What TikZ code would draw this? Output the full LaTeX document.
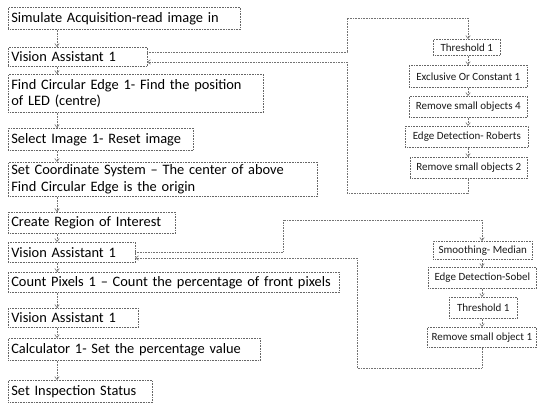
\documentclass[tikz,border=0pt]{standalone}
\usepackage{fontspec}
\setmainfont{Carlito}
\usetikzlibrary{arrows.meta,calc}
\begin{document}
\begin{tikzpicture}[x=1pt,y=-1pt,
  lbox/.style={draw=black!60, densely dotted, line width=0.6pt, anchor=north west,
    inner xsep=3pt, inner ysep=0pt, align=left, font=\fontsize{14.4}{16.5}\selectfont,
    text=black},
  rbox/.style={draw=black!60, densely dotted, line width=0.6pt, anchor=north west,
    inner sep=0pt, align=center, font=\fontsize{11}{12}\selectfont, text=black!90},
  conn/.style={draw=black!55, densely dotted, line width=0.6pt,
    -{Straight Barb[length=3pt,width=4.5pt]}},
  line/.style={draw=black!55, densely dotted, line width=0.6pt}]
\useasboundingbox (0,0) rectangle (537,411);
% left column
\node[lbox, text width=226pt, minimum height=22pt] (n1) at (8,7) {Simulate Acquisition-read image in};
\node[lbox, text width=133pt, minimum height=19pt] (n2) at (8,47) {Vision Assistant 1};
\node[lbox, text width=249pt, minimum height=38pt] (n3) at (8,74) {Find Circular Edge 1- Find the position\\of LED (centre)};
\node[lbox, text width=179pt, minimum height=22pt] (n4) at (8,128) {Select Image 1- Reset image};
\node[lbox, text width=303pt, minimum height=34pt] (n5) at (8,162) {Set Coordinate System -- The center of above\\Find Circular Edge is the origin};
\node[lbox, text width=161pt, minimum height=21pt] (n6) at (8,212) {Create Region of Interest};
\node[lbox, text width=121pt, minimum height=20pt] (n7) at (8,242) {Vision Assistant 1};
\node[lbox, text width=325pt, minimum height=20pt] (n8) at (8,272) {Count Pixels 1 -- Count the percentage of front pixels};
\node[lbox, text width=124pt, minimum height=19pt] (n9) at (8,308) {Vision Assistant 1};
\node[lbox, text width=246pt, minimum height=22pt] (n10) at (8,338) {Calculator 1- Set the percentage value};
\node[lbox, text width=138pt, minimum height=22pt] (n11) at (8,380) {Set Inspection Status};
\coordinate (ax) at (57,0);
\foreach \a/\b in {n1/n2,n2/n3,n3/n4,n4/n5,n5/n6,n6/n7,n7/n8,n8/n9,n9/n10,n10/n11}
  \draw[conn] (\a.south -| ax) -- (\b.north -| ax);
% right loop 1
\node[rbox, minimum width=67pt, minimum height=16pt] (r1) at (433,39) {Threshold 1};
\node[rbox, minimum width=118pt, minimum height=22pt] (r2) at (409,65) {Exclusive Or Constant 1};
\node[rbox, minimum width=118pt, minimum height=21pt] (r3) at (409,96) {Remove small objects 4};
\node[rbox, minimum width=123pt, minimum height=21pt] (r4) at (405,126) {Edge Detection- Roberts};
\node[rbox, minimum width=117pt, minimum height=21pt] (r5) at (410,157) {Remove small objects 2};
\coordinate (bx) at (468,0);
\foreach \a/\b in {r1/r2,r2/r3,r3/r4,r4/r5}
  \draw[conn] (\a.south -| bx) -- (\b.north -| bx);
\coordinate (o1) at (147,52);
\coordinate (i1) at (147,62);
\draw[conn] (o1) -- (347,52) -- (347,18) -- (468,18) -- (r1.north -| bx);
\draw[conn] (r5.south -| bx) -- (468,193) -- (347,193) -- (347,62) -- (i1);
% right loop 2
\node[rbox, minimum width=99pt, minimum height=18pt] (s1) at (433,241) {Smoothing- Median};
\node[rbox, minimum width=108pt, minimum height=21pt] (s2) at (428,267) {Edge Detection-Sobel};
\node[rbox, minimum width=68pt, minimum height=21pt] (s3) at (449,297) {Threshold 1};
\node[rbox, minimum width=109pt, minimum height=20pt] (s4) at (427,327) {Remove small object 1};
\coordinate (cx) at (482,0);
\foreach \a/\b in {s1/s2,s2/s3,s3/s4}
  \draw[conn] (\a.south -| cx) -- (\b.north -| cx);
\coordinate (o2) at (135,252);
\coordinate (i2) at (135,258);
\draw[conn] (o2) -- (283,252) -- (283,220) -- (482,220) -- (s1.north -| cx);
\draw[conn] (s4.south -| cx) -- (482,368) -- (357,368) -- (357,258) -- (i2);
\end{tikzpicture}
\end{document}
